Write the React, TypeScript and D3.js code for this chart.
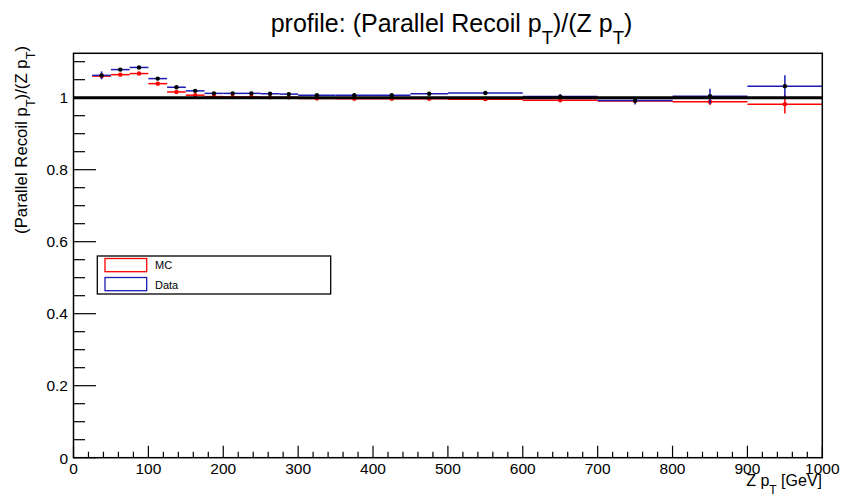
import React from "react";
import * as d3 from "d3";

const binEdges = [25, 50, 75, 100, 125, 150, 175, 200, 225, 250, 275, 300, 350, 400, 450, 500, 600, 700, 800, 900, 1000];
const mcValues = [1.060, 1.064, 1.067, 1.039, 1.016, 1.007, 1.003, 1.002, 1.002, 1.001, 1.001, 0.998, 0.997, 0.997, 0.997, 0.996, 0.993, 0.991, 0.989, 0.982];
const mcErrors = [0.008, 0.003, 0.003, 0.003, 0.003, 0.003, 0.003, 0.003, 0.003, 0.003, 0.003, 0.003, 0.003, 0.003, 0.003, 0.003, 0.004, 0.005, 0.009, 0.026];
const dataValues = [1.062, 1.078, 1.084, 1.053, 1.029, 1.019, 1.012, 1.012, 1.012, 1.011, 1.010, 1.007, 1.007, 1.007, 1.011, 1.013, 1.003, 0.992, 1.004, 1.032];
const dataErrors = [0.011, 0.003, 0.003, 0.003, 0.003, 0.003, 0.003, 0.003, 0.003, 0.003, 0.003, 0.003, 0.003, 0.004, 0.004, 0.005, 0.007, 0.011, 0.021, 0.030];

const xMajorTicks = [0, 100, 200, 300, 400, 500, 600, 700, 800, 900, 1000];
const yMajorTicks = [0, 0.2, 0.4, 0.6, 0.8, 1];
const yTickLabels = ["0", "0.2", "0.4", "0.6", "0.8", "1"];
const legendLabels = ["MC", "Data"];

const W = 841;
const H = 500;
const FONT = "'Liberation Sans', Arial, Helvetica, sans-serif";
const RED = "#ff0000";
const BLUE = "#1c1cb4";

const x = d3.scaleLinear().domain([0, 1000]).range([73.5, 822.3]);
const y = d3.scaleLinear().domain([0, 1.1233]).range([457.7, 53.3]);

type Seg = { t: string; sub?: boolean };
function SubText({ parts, size, subSize, drop, ...rest }: any) {
  let cur = 0;
  return (
    <text fontFamily={FONT} fontSize={size} {...rest}>
      {parts.map((p: Seg, i: number) => {
        const target = p.sub ? drop : 0;
        const dy = target - cur;
        cur = target;
        return (
          <tspan key={i} dy={dy} fontSize={p.sub ? subSize : size}>
            {p.t}
          </tspan>
        );
      })}
    </text>
  );
}

const ratioParts: Seg[] = [
  { t: "(Parallel Recoil p" },
  { t: "T", sub: true },
  { t: ")/(Z p" },
  { t: "T", sub: true },
  { t: ")" },
];

function Series({ values, errors, color, marker }: any) {
  return (
    <g>
      {values.map((v: number, i: number) => {
        const x0 = x(binEdges[i]);
        const x1 = x(binEdges[i + 1]);
        const xc = x((binEdges[i] + binEdges[i + 1]) / 2);
        const yc = y(v);
        return (
          <g key={i}>
            <line x1={x0} x2={x1} y1={yc} y2={yc} stroke={color} strokeWidth={1.5} />
            <line x1={xc} x2={xc} y1={y(v - errors[i])} y2={y(v + errors[i])} stroke={color} strokeWidth={1.5} />
            <circle cx={xc} cy={yc} r={2.2} fill={marker} />
          </g>
        );
      })}
    </g>
  );
}

export default function App() {
  const xMinor = d3.range(0, 1001, 20).filter((t) => t % 100 !== 0);
  const yMinor = d3.range(0, 1.12, 0.05).map((t) => +t.toFixed(2)).filter((t) => Math.abs(t * 5 - Math.round(t * 5)) > 1e-6);
  const left = x(0);
  const right = x(1000);
  const top = y(1.1233);
  const bottom = y(0);
  return (
    <svg width={W} height={H} style={{ position: "fixed", left: 0, top: 0, background: "#fff" }}>
      <rect x={0} y={0} width={W} height={H} fill="#fff" />
      {/* title */}
      <SubText
        parts={[{ t: "profile: " }, ...ratioParts]}
        size={25}
        subSize={18.5}
        drop={11.5}
        x={451.5}
        y={32.3}
        textAnchor="middle"
        fill="#000"
      />
      {/* series */}
      <Series values={mcValues} errors={mcErrors} color={RED} marker={RED} />
      <Series values={dataValues} errors={dataErrors} color={BLUE} marker="#000" />
      {/* reference line */}
      <line x1={left} x2={right} y1={y(1)} y2={y(1)} stroke="#000" strokeWidth={3} />
      {/* frame */}
      <rect x={left} y={top} width={right - left} height={bottom - top} fill="none" stroke="#000" strokeWidth={1.5} />
      {/* x ticks */}
      {xMajorTicks.map((t) => (
        <g key={"xm" + t}>
          <line x1={x(t)} x2={x(t)} y1={bottom} y2={bottom - 12} stroke="#000" strokeWidth={1.2} />
          <text x={x(t)} y={474.3} textAnchor="middle" fontFamily={FONT} fontSize={15.5} fill="#000">
            {t}
          </text>
        </g>
      ))}
      {xMinor.map((t) => (
        <line key={"xn" + t} x1={x(t)} x2={x(t)} y1={bottom} y2={bottom - 6} stroke="#000" strokeWidth={1.2} />
      ))}
      {/* y ticks */}
      {yMajorTicks.map((t, i) => (
        <g key={"ym" + t}>
          <line x1={left} x2={left + 22.5} y1={y(t)} y2={y(t)} stroke="#000" strokeWidth={1.2} />
          <text x={68} y={y(t) + 5.8} textAnchor="end" fontFamily={FONT} fontSize={15.5} fill="#000">
            {yTickLabels[i]}
          </text>
        </g>
      ))}
      {yMinor.map((t) => (
        <line key={"yn" + t} x1={left} x2={left + 11.5} y1={y(t)} y2={y(t)} stroke="#000" strokeWidth={1.2} />
      ))}
      {/* axis titles */}
      <SubText
        parts={[{ t: "Z p" }, { t: "T", sub: true }, { t: " [GeV]" }]}
        size={16}
        subSize={12}
        drop={7.5}
        x={822}
        y={486}
        textAnchor="end"
        fill="#000"
      />
      <g transform="translate(27.3,46) rotate(-90)">
        <SubText parts={ratioParts} size={16.8} subSize={12.6} drop={7.5} x={0} y={0} textAnchor="end" fill="#000" />
      </g>
      {/* legend */}
      <rect x={97.3} y={256} width={233.4} height={38} fill="#fff" stroke="#000" strokeWidth={1.3} />
      {legendLabels.map((lab, i) => (
        <g key={lab}>
          <rect x={105} y={258.5 + i * 19} width={41.7} height={13.2} fill="none" stroke={i === 0 ? RED : BLUE} strokeWidth={1.3} />
          <text x={155} y={269.3 + i * 20} fontFamily={FONT} fontSize={11} fill="#000">
            {lab}
          </text>
        </g>
      ))}
    </svg>
  );
}
